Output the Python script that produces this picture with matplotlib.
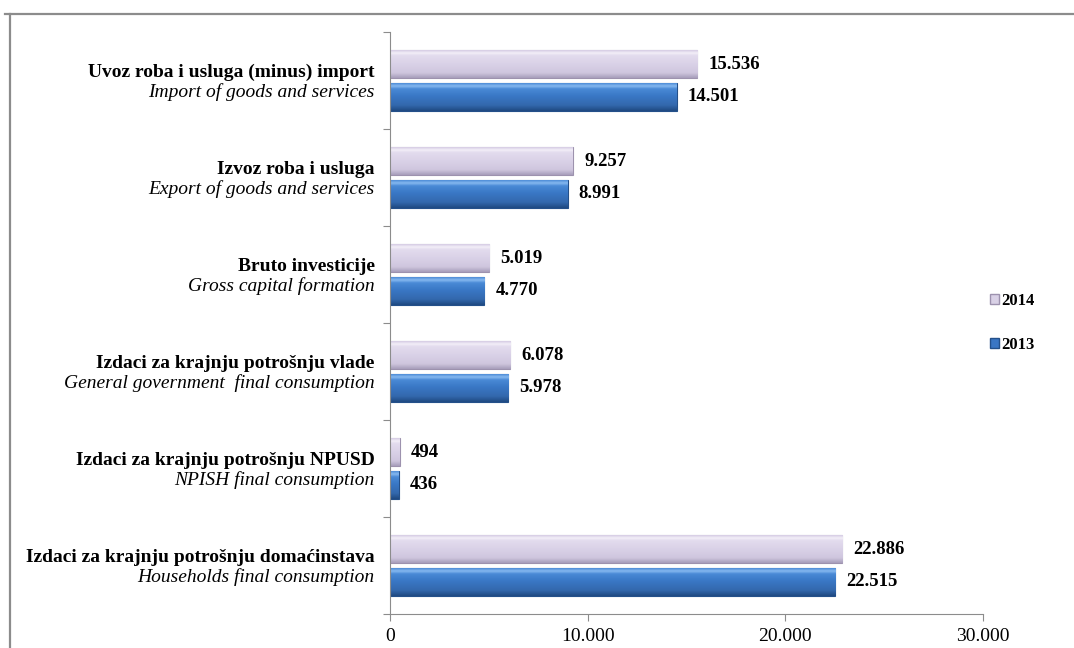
import matplotlib
matplotlib.use("Agg")
import matplotlib.pyplot as plt
import numpy as np
from matplotlib.colors import LinearSegmentedColormap

# Categories from bottom to top
labels_bold = [
    "Izdaci za krajnju potrošnju domaćinstava",
    "Izdaci za krajnju potrošnju NPUSD",
    "Izdaci za krajnju potrošnju vlade",
    "Bruto investicije",
    "Izvoz roba i usluga",
    "Uvoz roba i usluga (minus) import",
]
labels_italic = [
    "Households final consumption",
    "NPISH final consumption",
    "General government  final consumption",
    "Gross capital formation",
    "Export of goods and services",
    "Import of goods and services",
]
values_2014 = [22886, 494, 6078, 5019, 9257, 15536]
values_2013 = [22515, 436, 5978, 4770, 8991, 14501]
series_names = ["2014", "2013"]
x_ticks = [0, 10000, 20000, 30000]

plt.rcParams['font.family'] = ['Liberation Serif', 'DejaVu Serif']

fig = plt.figure(figsize=(10.74, 6.48), dpi=100)
# outer frame
fig.add_artist(plt.Line2D([5/1074, 1], [1-14/648, 1-14/648], transform=fig.transFigure,
                          color='#8c8c8c', lw=1.6))
fig.add_artist(plt.Line2D([10/1074, 10/1074], [0, 1-14/648], transform=fig.transFigure,
                          color='#8c8c8c', lw=1.6))

ax = fig.add_axes([390/1074, 34/648, 593/1074, 582/648])

c14, e14 = '#d9d1e6', '#9d92ae'
c13, e13 = '#3a76c4', '#24508a'
h = 0.28
off = 0.17
ys = list(range(len(labels_bold)))

b14 = ax.barh([y + off for y in ys], values_2014, height=h, color=c14, edgecolor=e14, lw=0.8,
              label=series_names[0], zorder=2)
b13 = ax.barh([y - off for y in ys], values_2013, height=h, color=c13, edgecolor=e13, lw=0.8,
              label=series_names[1], zorder=2)

cm14 = LinearSegmentedColormap.from_list('g14', [(0, '#a89ebb'), (0.18, '#cfc6de'), (0.55, '#dbd3e8'),
                                                  (0.82, '#e3dcee'), (0.9, '#f3eff8'), (1, '#d6cde4')])
cm13 = LinearSegmentedColormap.from_list('g13', [(0, '#1f4a82'), (0.2, '#3368ad'), (0.55, '#3a78c6'),
                                                  (0.8, '#4a8ad6'), (0.9, '#86b9f0'), (1, '#4f8ed8')])
grad = np.linspace(0, 1, 64).reshape(-1, 1)
for cont, cm in ((b14, cm14), (b13, cm13)):
    for p in cont.patches:
        x0, y0, w, hh = p.get_x(), p.get_y(), p.get_width(), p.get_height()
        im = ax.imshow(grad, extent=(x0, x0 + w, y0, y0 + hh), origin='lower', aspect='auto',
                       cmap=cm, zorder=2.5, interpolation='bilinear')
        im.set_clip_path(p)

def fmt(v):
    return f"{v:,}".replace(",", ".")

for y, v in zip(ys, values_2014):
    ax.annotate(fmt(v), (v, y + off), xytext=(8, 0), textcoords='offset points',
                va='center', ha='left', fontsize=13.5, fontweight='bold')
for y, v in zip(ys, values_2013):
    ax.annotate(fmt(v), (v, y - off), xytext=(8, 0), textcoords='offset points',
                va='center', ha='left', fontsize=13.5, fontweight='bold')

for y, b, i in zip(ys, labels_bold, labels_italic):
    ax.annotate(b, (0, y), xycoords=('axes fraction', 'data'), xytext=(-11, 2.5),
                textcoords='offset points', ha='right', va='baseline', fontsize=14, fontweight='bold')
    ax.annotate(i, (0, y), xycoords=('axes fraction', 'data'), xytext=(-11, -12),
                textcoords='offset points', ha='right', va='baseline', fontsize=14, style='italic')

ax.set_xlim(0, 30000)
ax.set_ylim(-0.5, len(ys) - 0.5)
ax.set_xticks(x_ticks)
ax.set_xticklabels([fmt(t) for t in x_ticks], fontsize=14)
ax.set_yticks([y - 0.5 for y in range(len(ys) + 1)])
ax.set_yticklabels([])
ax.tick_params(axis='y', length=5, color='#8c8c8c', direction='out')
ax.tick_params(axis='x', length=5, color='#8c8c8c', direction='out', pad=5)
for s in ['top', 'right']:
    ax.spines[s].set_visible(False)
for s in ['left', 'bottom']:
    ax.spines[s].set_color('#8c8c8c')

handles = [plt.Rectangle((0, 0), 1, 1, facecolor=c14, edgecolor=e14),
           plt.Rectangle((0, 0), 1, 1, facecolor=c13, edgecolor=e13)]
leg = ax.legend(handles, series_names, loc='center left', bbox_to_anchor=(1.0, 0.5),
                frameon=False, prop={'weight': 'bold', 'size': 12}, handlelength=0.55,
                handleheight=0.55, handletextpad=0.15, labelspacing=1.65, borderaxespad=0)

fig.savefig("out.png", dpi=100)
